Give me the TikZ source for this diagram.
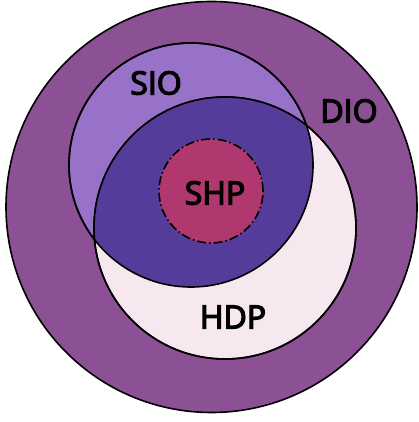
\documentclass[tikz,border=0pt]{standalone}
\usepackage{fontspec}
\setmainfont{Open Sans}[FakeBold=4]
\definecolor{dioC}{RGB}{140,80,148}
\definecolor{sioC}{RGB}{152,114,200}
\definecolor{hdpC}{RGB}{246,232,238}
\definecolor{coreC}{RGB}{86,60,154}
\definecolor{shpC}{RGB}{176,56,110}
\begin{document}
\begin{tikzpicture}[x=1pt,y=1pt,
  ring/.style={circle,draw=black,line width=1.6pt,inner sep=0pt},
  lbl/.style={font=\fontsize{32}{36}\selectfont,text=black,inner sep=0pt}]
\useasboundingbox (0,0) rectangle (419,422);
% outer set and the two overlapping sets
\node[ring,fill=dioC,minimum size=411pt] (dio) at (211.5,215) {};
\node[ring,fill=sioC,minimum size=244pt] (sio) at (191,257) {};
\node[ring,fill=hdpC,minimum size=262pt] (hdp) at (225,194) {};
% overlap of SIO and HDP
\begin{scope}
  \clip (sio.center) circle (122pt);
  \fill[coreC] (hdp.center) circle (131pt);
\end{scope}
\draw[line width=1.6pt] (sio.center) circle (122pt);
\draw[line width=1.6pt] (hdp.center) circle (131pt);
% innermost set
\node[circle,inner sep=0pt,minimum size=104pt,fill=shpC,draw=black,line width=1.6pt,
  dash pattern=on 9pt off 3pt on 1.5pt off 3pt] (shp) at (211,231) {};
% labels
\node[lbl] (tsio) at (156,339) {SIO};
\node[lbl] (tdio) at (349,311) {DIO};
\node[lbl] (tshp) at (215,229) {SHP};
\node[lbl] (thdp) at (233,105) {HDP};
\end{tikzpicture}
\end{document}
